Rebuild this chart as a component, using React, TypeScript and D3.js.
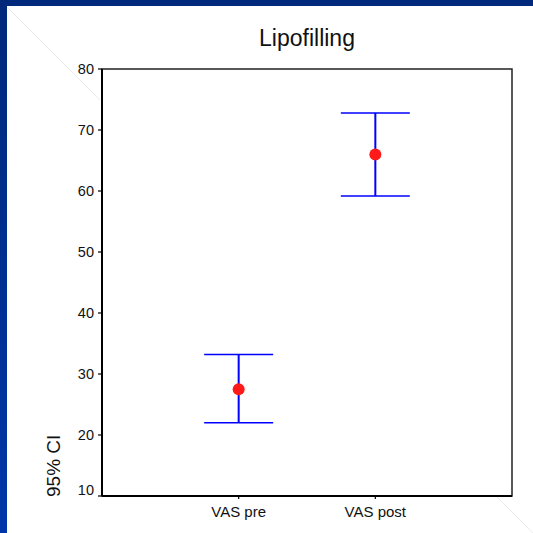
import React from "react";
import * as d3 from "d3";

// 95% confidence intervals
const categories = ["VAS pre", "VAS post"];
const means = [27.5, 66.0];
const lower = [22.0, 59.2];
const upper = [33.2, 72.8];
const yTicks = [10, 20, 30, 40, 50, 60, 70, 80];

const W = 533;
const H = 533;
const margin = { top: 69, right: 21, bottom: 37, left: 102 };
const font = "'Liberation Sans', Arial, sans-serif";

export default function App() {
  const x = d3
    .scalePoint<string>()
    .domain(categories)
    .range([margin.left, W - margin.right])
    .padding(1);
  const y = d3
    .scaleLinear()
    .domain([10, 80])
    .range([H - margin.bottom, margin.top]);

  const capHalf = 34.5;
  const x0 = margin.left;
  const x1 = W - margin.right;
  const y0 = H - margin.bottom;
  const y1 = margin.top;

  return (
    <svg
      width={W}
      height={H}
      style={{ position: "fixed", left: 0, top: 0, background: "#fff" }}
    >
      <defs>
        <linearGradient id="side" x1="0" y1="0" x2="0" y2="1">
          <stop offset="0" stopColor="#00287a" />
          <stop offset="1" stopColor="#0036a8" />
        </linearGradient>
      </defs>
      <rect x={0} y={0} width={W} height={H} fill="#fff" />
      {/* faint diagonal behind the chart */}
      <line x1={0} y1={0} x2={W} y2={H} stroke="#ececec" strokeWidth={1} />
      <rect x={x0 - 2} y={y1 - 53} width={x1 - x0 + 2} height={y0 - y1 + 53} fill="#fff" />
      <rect x={0} y={0} width={W} height={6} fill="#00297b" />
      <rect x={0} y={0} width={7} height={H} fill="url(#side)" />

      <text
        x={(x0 + x1) / 2}
        y={45.5}
        textAnchor="middle"
        fontFamily={font}
        fontSize={23}
        fill="#111"
      >
        Lipofilling
      </text>

      {/* plot frame */}
      <rect
        x={x0}
        y={y1}
        width={x1 - x0}
        height={y0 - y1}
        fill="none"
        stroke="#222"
        strokeWidth={1.5}
      />
      <line x1={x0} y1={y1} x2={x0} y2={y0} stroke="#000" strokeWidth={2} />
      <line x1={x0} y1={y0} x2={x1} y2={y0} stroke="#000" strokeWidth={2} />

      {/* y axis */}
      {yTicks.map((t) => (
        <g key={t}>
          <line x1={x0 - 4} x2={x0} y1={y(t)} y2={y(t)} stroke="#000" strokeWidth={1.2} />
          <text
            x={x0 - 8}
            y={y(t) + (t === 10 ? -1 : 5)}
            textAnchor="end"
            fontFamily={font}
            fontSize={14.5}
            fill="#111"
          >
            {t}
          </text>
        </g>
      ))}
      <text
        transform={`translate(60,497) rotate(-90)`}
        textAnchor="start"
        fontFamily={font}
        fontSize={19}
        fill="#111"
      >
        95% CI
      </text>

      {/* x axis */}
      {categories.map((c) => (
        <g key={c}>
          <line x1={x(c)} x2={x(c)} y1={y0} y2={y0 + 3} stroke="#000" strokeWidth={1.2} />
          <text
            x={x(c)}
            y={y0 + 21}
            textAnchor="middle"
            fontFamily={font}
            fontSize={15}
            fill="#111"
          >
            {c}
          </text>
        </g>
      ))}

      {/* error bars */}
      {categories.map((c, i) => {
        const cx = x(c)!;
        return (
          <g key={c} stroke="#0000ff" strokeWidth={1.5}>
            <line x1={cx} x2={cx} y1={y(upper[i])} y2={y(lower[i])} strokeWidth={2} />
            <line x1={cx - capHalf} x2={cx + capHalf} y1={y(upper[i])} y2={y(upper[i])} />
            <line x1={cx - capHalf} x2={cx + capHalf} y1={y(lower[i])} y2={y(lower[i])} />
            <circle cx={cx} cy={y(means[i])} r={6} fill="#ff1a1a" stroke="none" />
          </g>
        );
      })}
    </svg>
  );
}
